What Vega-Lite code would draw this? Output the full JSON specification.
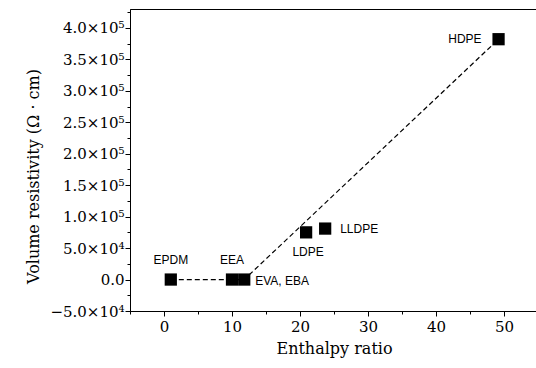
{
  "$schema": "https://vega.github.io/schema/vega-lite/v6.json",
  "width": 408,
  "height": 302,
  "autosize": "none",
  "padding": {"left": 130, "top": 9, "right": 0, "bottom": 57},
  "background": "white",
  "config": {
    "view": {"stroke": "black", "strokeWidth": 1},
    "axis": {
      "grid": false,
      "domainColor": "black",
      "tickColor": "black",
      "labelColor": "black",
      "titleColor": "black",
      "labelFont": "DejaVu Serif",
      "labelFontSize": 15,
      "titleFont": "DejaVu Serif",
      "titleFontSize": 16,
      "titleFontWeight": "normal",
      "labelOverlap": false
    }
  },
  "datasets": {
    "pts": [
      {"name": "EPDM", "ratio": 1.0, "res": 0},
      {"name": "EEA", "ratio": 10.0, "res": 0},
      {"name": "EVA, EBA", "ratio": 11.8, "res": 0},
      {"name": "LDPE", "ratio": 20.9, "res": 75000},
      {"name": "LLDPE", "ratio": 23.7, "res": 81000},
      {"name": "HDPE", "ratio": 49.2, "res": 382000}
    ],
    "fit": [
      {"ratio": 1.0, "res": 0},
      {"ratio": 11.8, "res": 0},
      {"ratio": 49.2, "res": 382000}
    ]
  },
  "encoding": {
    "x": {
      "field": "ratio", "type": "quantitative",
      "scale": {"domain": [-5, 55], "nice": false, "zero": false},
      "axis": {
        "title": "Enthalpy ratio",
        "values": [-5, 0, 5, 10, 15, 20, 25, 30, 35, 40, 45, 50, 55],
        "labelExpr": "datum.value % 10 == 0 && datum.value >= 0 ? datum.value : ''",
        "tickSize": {"condition": {"test": "datum.value % 10 == 0", "value": 5}, "value": 3},
        "labelPadding": 3,
        "titlePadding": 6
      }
    },
    "y": {
      "field": "res", "type": "quantitative",
      "scale": {"domain": [-50000, 430000], "nice": false, "zero": false},
      "axis": {
        "title": "Volume resistivity (Ω · cm)",
        "values": [-50000, -25000, 0, 25000, 50000, 75000, 100000, 125000, 150000, 175000, 200000, 225000, 250000, 275000, 300000, 325000, 350000, 375000, 400000, 425000],
        "labelExpr": "datum.value == 0 ? '0.0' : (datum.value % 50000 != 0 ? '' : (abs(datum.value) >= 100000 ? format(datum.value/100000, '.1f') + '×10⁵' : format(datum.value/10000, '.1f') + '×10⁴'))",
        "tickSize": {"condition": {"test": "datum.value % 50000 == 0", "value": 5}, "value": 3},
        "labelPadding": 1,
        "titlePadding": 8,
        "titleY": 167
      }
    }
  },
  "layer": [
    {
      "data": {"name": "fit"},
      "mark": {"type": "line", "color": "black", "strokeWidth": 1.2, "strokeDash": [5, 3]}
    },
    {
      "data": {"name": "pts"},
      "mark": {"type": "square", "size": 150, "filled": true, "color": "black", "opacity": 1}
    },
    {
      "data": {"name": "pts"},
      "transform": [{"filter": "datum.name == 'EPDM' || datum.name == 'EEA'"}],
      "mark": {"type": "text", "font": "Liberation Sans", "fontSize": 12, "align": "center", "baseline": "middle", "dy": -20, "color": "black"},
      "encoding": {"text": {"field": "name"}}
    },
    {
      "data": {"name": "pts"},
      "transform": [{"filter": "datum.name == 'EVA, EBA'"}],
      "mark": {"type": "text", "font": "Liberation Sans", "fontSize": 12, "align": "left", "baseline": "middle", "dx": 11, "dy": 1, "color": "black"},
      "encoding": {"text": {"field": "name"}}
    },
    {
      "data": {"name": "pts"},
      "transform": [{"filter": "datum.name == 'LLDPE'"}],
      "mark": {"type": "text", "font": "Liberation Sans", "fontSize": 12, "align": "left", "baseline": "middle", "dx": 15, "color": "black"},
      "encoding": {"text": {"field": "name"}}
    },
    {
      "data": {"name": "pts"},
      "transform": [{"filter": "datum.name == 'LDPE'"}],
      "mark": {"type": "text", "font": "Liberation Sans", "fontSize": 12, "align": "center", "baseline": "middle", "dx": 2, "dy": 20, "color": "black"},
      "encoding": {"text": {"field": "name"}}
    },
    {
      "data": {"name": "pts"},
      "transform": [{"filter": "datum.name == 'HDPE'"}],
      "mark": {"type": "text", "font": "Liberation Sans", "fontSize": 12, "align": "right", "baseline": "middle", "dx": -17, "color": "black"},
      "encoding": {"text": {"field": "name"}}
    }
  ]
}
